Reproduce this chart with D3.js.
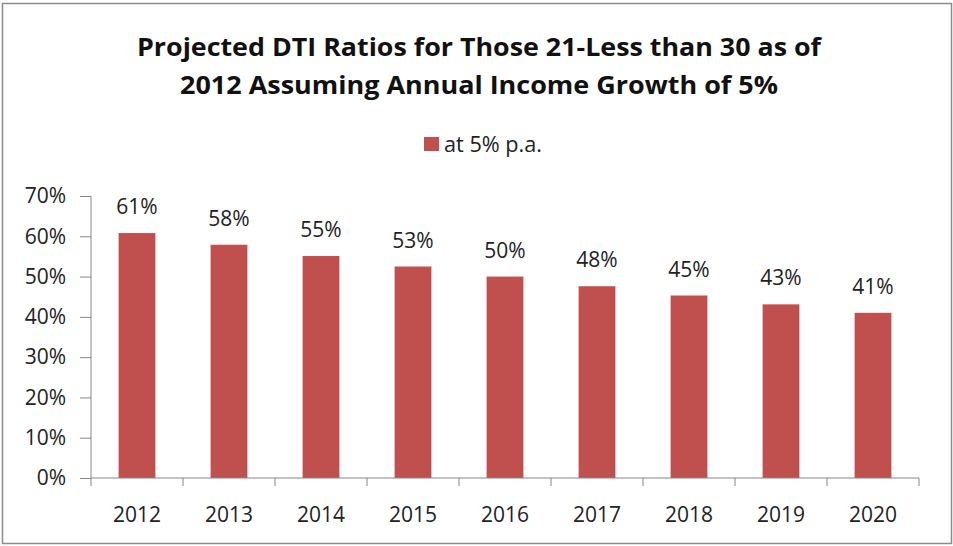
<!DOCTYPE html>
<html>
<head>
<meta charset="utf-8">
<script src="https://cdn.jsdelivr.net/npm/d3@7"></script>
<style>
  body { margin: 0; background: #fff; }
  svg { display: block; font-family: "Open Sans", "Liberation Sans", sans-serif; }
</style>
</head>
<body>
<svg id="chart" width="953" height="546"></svg>
<script>
// chart data
let years = ["2012", "2013", "2014", "2015", "2016", "2017", "2018", "2019", "2020"];
let ratios = [60.8, 57.9, 55.1, 52.5, 50.0, 47.6, 45.3, 43.1, 41.0];
let yTicks = [0, 10, 20, 30, 40, 50, 60, 70];
let titleLines = ["Projected DTI Ratios for Those 21-Less than 30 as of",
                  "2012 Assuming Annual Income Growth of 5%"];
let seriesName = "at 5% p.a.";

let width = 953;
let height = 546;
let margin = ({top: 196, right: 34, bottom: 68, left: 91});
let barColor = "#C0504D";
let axisColor = "#868686";
let labelSize = 21;

const svg = d3.select("#chart");

// outer frame
svg.append("rect")
   .attr("x", 2.5).attr("y", 3.5)
   .attr("width", width - 4).attr("height", height - 6)
   .attr("fill", "none")
   .attr("stroke", "#8c8c8c")
   .attr("stroke-width", 1.5);

// title
svg.append("g")
   .selectAll("text")
   .data(titleLines)
   .join("text")
   .attr("x", 479)
   .attr("y", (d, i) => 56 + i * 38)
   .attr("text-anchor", "middle")
   .attr("font-size", 25)
   .attr("font-weight", "bold")
   .attr("fill", "#111")
   .attr("textLength", (d, i) => i == 0 ? 684 : 598)
   .attr("lengthAdjust", "spacingAndGlyphs")
   .text(d => d);

// legend
const legend = svg.append("g").attr("transform", "translate(424,137)");
legend.append("rect")
      .attr("width", 15).attr("height", 14)
      .attr("fill", barColor);
legend.append("text")
      .attr("x", 20).attr("y", 15)
      .attr("font-size", labelSize)
      .attr("fill", "#222")
      .attr("textLength", 98)
      .attr("lengthAdjust", "spacingAndGlyphs")
      .text(seriesName);

let x = d3.scaleBand()
          .domain(years)
          .range([margin.left, width - margin.right])
          .paddingInner(0.6)
          .paddingOuter(0.3);

let y = d3.scaleLinear()
          .domain([0, 70])
          .range([height - margin.bottom, margin.top]);

// bars
svg.append("g")
   .selectAll("rect")
   .data(ratios)
   .join("rect")
   .attr("x", (d, i) => x(years[i]))
   .attr("y", d => y(d))
   .attr("width", x.bandwidth())
   .attr("height", d => y(0) - y(d))
   .attr("fill", barColor);

// value labels
svg.append("g")
   .selectAll("text")
   .data(ratios)
   .join("text")
   .attr("x", (d, i) => x(years[i]) + x.bandwidth() / 2)
   .attr("y", d => y(d) - 19)
   .attr("text-anchor", "middle")
   .attr("font-size", labelSize)
   .attr("fill", "#222")
   .text(d => Math.round(d) + "%");

// y axis
const yAxis = svg.append("g")
   .attr("transform", `translate(${margin.left},0)`)
   .call(d3.axisLeft(y).tickValues(yTicks).tickSize(11).tickPadding(14).tickFormat(d => d + "%"));

// x axis with ticks between categories
let step = (width - margin.right - margin.left) / years.length;
const xAxis = svg.append("g")
   .attr("transform", `translate(0,${height - margin.bottom})`);
xAxis.append("line")
     .attr("x1", margin.left).attr("x2", width - margin.right)
     .attr("stroke", axisColor);
xAxis.selectAll(".tick")
     .data(d3.range(years.length + 1))
     .join("line")
     .attr("x1", i => margin.left + i * step)
     .attr("x2", i => margin.left + i * step)
     .attr("y1", 0).attr("y2", 8)
     .attr("stroke", axisColor);
xAxis.selectAll("text")
     .data(years)
     .join("text")
     .attr("x", d => x(d) + x.bandwidth() / 2)
     .attr("y", 44)
     .attr("text-anchor", "middle")
     .attr("font-size", labelSize)
     .attr("fill", "#222")
     .text(d => d);

yAxis.selectAll("text").attr("font-size", labelSize).attr("fill", "#222").attr("font-family", "Open Sans, Liberation Sans, sans-serif");
yAxis.selectAll("line, path").attr("stroke", axisColor);
yAxis.select("path").attr("d", `M-0,${y(70)}H0V${y(0)}`);
</script>
</body>
</html>
